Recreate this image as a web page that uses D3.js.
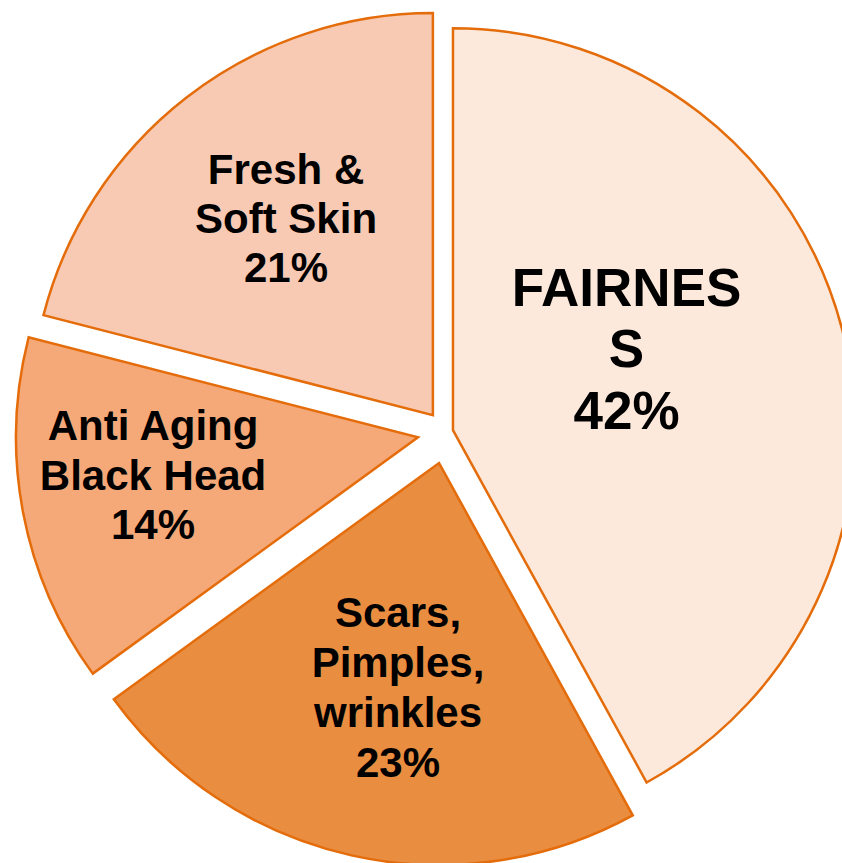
<!DOCTYPE html>
<html>
<head>
<meta charset="utf-8">
<script src="https://cdn.jsdelivr.net/npm/d3@7"></script>
<style>
  html, body { margin: 0; padding: 0; background: #ffffff; }
  svg { display: block; }
</style>
</head>
<body>
<script>
// ---- data ----
const categories = ["FAIRNESS", "Scars, Pimples, wrinkles", "Anti Aging Black Head", "Fresh & Soft Skin"];
const values = [42, 23, 14, 21];
const labelLines = [
  ["FAIRNES", "S", "42%"],
  ["Scars,", "Pimples,", "wrinkles", "23%"],
  ["Anti Aging", "Black Head", "14%"],
  ["Fresh &", "Soft Skin", "21%"]
];

// ---- style / layout ----
const W = 842, H = 863;
const cx = 446, cy = 432, R = 402;
const fills = ["#FDE9DB", "#E98D40", "#F6A978", "#F8CAB3"];
const explode = [7.2, 31.8, 28.5, 21.4];
const labelRadius = [0.4776, 0.565, 0.6656, 0.6114];
const labelAngleShift = [-10.95, -2.19, 2.82, 1.11]; // degrees
const fontSize = [53, 42, 42, 42];
const linePitch = [61.5, 50, 49.5, 49];

const svg = d3.select("body").append("svg")
  .attr("width", W).attr("height", H);

const pie = d3.pie().sort(null).value(d => d)(values);
const arc = d3.arc().innerRadius(0).outerRadius(R);

const g = svg.append("g").attr("transform", `translate(${cx},${cy})`);

const slices = g.selectAll("g.slice").data(pie).enter().append("g")
  .attr("class", "slice")
  .attr("transform", (d, i) => {
    const m = (d.startAngle + d.endAngle) / 2;
    return `translate(${explode[i] * Math.sin(m)},${-explode[i] * Math.cos(m)})`;
  });

slices.append("path")
  .attr("d", arc)
  .attr("fill", (d, i) => fills[i])
  .attr("stroke", "#E46C0A")
  .attr("stroke-width", 2.5)
  .attr("stroke-linejoin", "miter");

slices.each(function (d, i) {
  const m = (d.startAngle + d.endAngle) / 2 + labelAngleShift[i] * Math.PI / 180;
  const lr = labelRadius[i] * R;
  const x = lr * Math.sin(m), y = -lr * Math.cos(m);
  const lines = labelLines[i];
  const t = d3.select(this).append("text")
    .attr("text-anchor", "middle")
    .attr("font-family", "'Liberation Sans', Arial, sans-serif")
    .attr("font-weight", "bold")
    .attr("font-size", fontSize[i])
    .attr("fill", "#000");
  lines.forEach((ln, j) => {
    t.append("tspan")
      .attr("x", x)
      .attr("y", y + (j - (lines.length - 1) / 2) * linePitch[i])
      .attr("dy", "0.36em")
      .text(ln);
  });
});
</script>
</body>
</html>
